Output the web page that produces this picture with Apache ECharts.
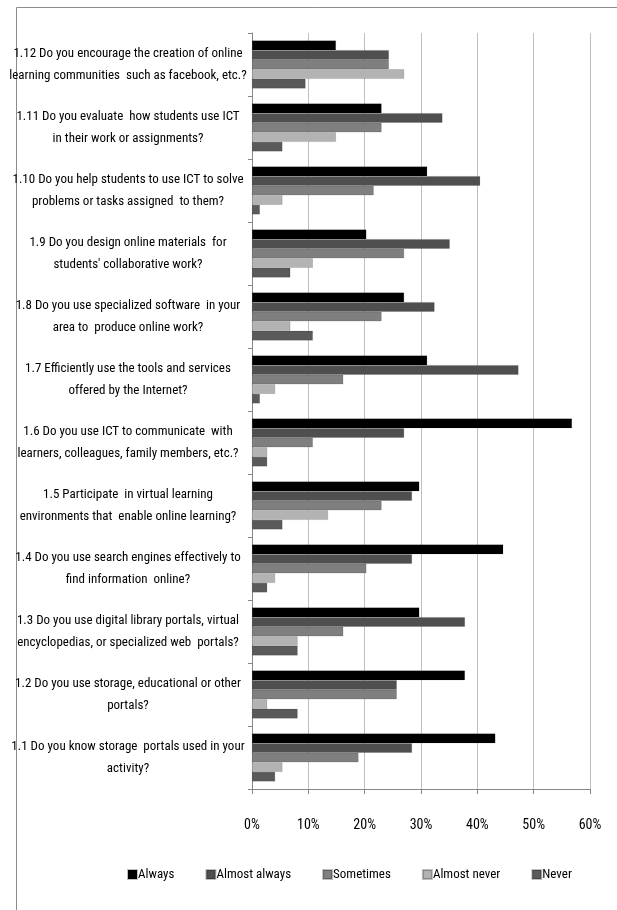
<!DOCTYPE html>
<html>
<head>
<meta charset="utf-8">
<script src="https://cdn.jsdelivr.net/npm/echarts@6/dist/echarts.min.js"></script>
<style>
  html, body { margin: 0; padding: 0; background: #fff; }
  #chart { width: 617px; height: 910px; }
</style>
</head>
<body>
<div id="chart"></div>
<script>
  // categories, bottom to top (as drawn)
  var questions = [
    '1.1 Do you know storage  portals used in your\nactivity?',
    '1.2 Do you use storage, educational or other\nportals?',
    '1.3 Do you use digital library portals, virtual\nencyclopedias, or specialized web  portals?',
    '1.4 Do you use search engines effectively to\nfind information  online?',
    '1.5 Participate  in virtual learning\nenvironments that  enable online learning?',
    '1.6 Do you use ICT to communicate  with\nlearners, colleagues, family members, etc.?',
    '1.7 Efficiently use the tools and services\noffered by the Internet?',
    '1.8 Do you use specialized software  in your\narea to  produce online work?',
    '1.9 Do you design online materials  for\nstudents\' collaborative work?',
    '1.10 Do you help students to use ICT to solve\nproblems or tasks assigned  to them?',
    '1.11 Do you evaluate  how students use ICT\nin their work or assignments?',
    '1.12 Do you encourage the creation of online\nlearning communities  such as facebook, etc.?'
  ];

  var seriesNames = ['Always', 'Almost always', 'Sometimes', 'Almost never', 'Never'];

  // percentages per question (same order as questions)
  var always       = [43.2, 37.8, 29.7, 44.6, 29.7, 56.8, 31.1, 27.0, 20.3, 31.1, 23.0, 14.9];
  var almostAlways = [28.4, 25.7, 37.8, 28.4, 28.4, 27.0, 47.3, 32.4, 35.1, 40.5, 33.8, 24.3];
  var sometimes    = [18.9, 25.7, 16.2, 20.3, 23.0, 10.8, 16.2, 23.0, 27.0, 21.6, 23.0, 24.3];
  var almostNever  = [ 5.4,  2.7,  8.1,  4.1, 13.5,  2.7,  4.1,  6.8, 10.8,  5.4, 14.9, 27.0];
  var never        = [ 4.1,  8.1,  8.1,  2.7,  5.4,  2.7,  1.4, 10.8,  6.8,  1.4,  5.4,  9.5];

  var xTicks = [0, 10, 20, 30, 40, 50, 60];

  var colors = ['#000000', '#4f4f4f', '#7f7f7f', '#b3b3b3', '#5a5a5a'];
  var values = [always, almostAlways, sometimes, almostNever, never];

  var font = '"Roboto Condensed", "DejaVu Sans Condensed", "Liberation Sans", sans-serif';

  var chart = echarts.init(document.getElementById('chart'));

  var series = seriesNames.map(function (name, i) {
    return {
      name: name,
      type: 'bar',
      data: values[i],
      barGap: '0%',
      barCategoryGap: '24%',
      itemStyle: { color: colors[i], borderColor: 'rgba(0,0,0,0.25)', borderWidth: 0.5 },
      emphasis: { disabled: true }
    };
  });

  chart.setOption({
    animation: false,
    textStyle: { fontFamily: font },
    graphic: [{
      type: 'rect',
      shape: { x: 16.5, y: 7.5, width: 700, height: 1000 },
      style: { fill: 'none', stroke: '#8c8c8c', lineWidth: 1 },
      silent: true
    }],
    legend: {
      data: seriesNames,
      bottom: 24,
      left: 122,
      icon: 'rect',
      itemWidth: 9,
      itemHeight: 9,
      itemGap: 31,
      textStyle: { fontFamily: font, fontSize: 13, color: '#000', padding: [0, 0, 0, -4] }
    },
    grid: { left: 252, right: 27, top: 33, bottom: 121, containLabel: false, outerBoundsMode: 'none' },
    xAxis: {
      type: 'value',
      min: xTicks[0],
      max: xTicks[xTicks.length - 1],
      interval: 10,
      axisLine: { show: true, lineStyle: { color: '#868686' } },
      axisTick: { show: true, length: 5, lineStyle: { color: '#868686' } },
      splitLine: { show: true, lineStyle: { color: '#bfbfbf' } },
      axisLabel: { formatter: '{value}%', fontFamily: font, fontSize: 14, color: '#000', margin: 29 }
    },
    yAxis: {
      type: 'category',
      data: questions,
      axisLine: { show: true, lineStyle: { color: '#868686' } },
      axisTick: { show: true, length: 4, lineStyle: { color: '#868686' } },
      axisLabel: {
        fontFamily: font, fontSize: 13, color: '#000',
        align: 'center', lineHeight: 22, margin: 124
      }
    },
    series: series
  });
</script>
</body>
</html>
